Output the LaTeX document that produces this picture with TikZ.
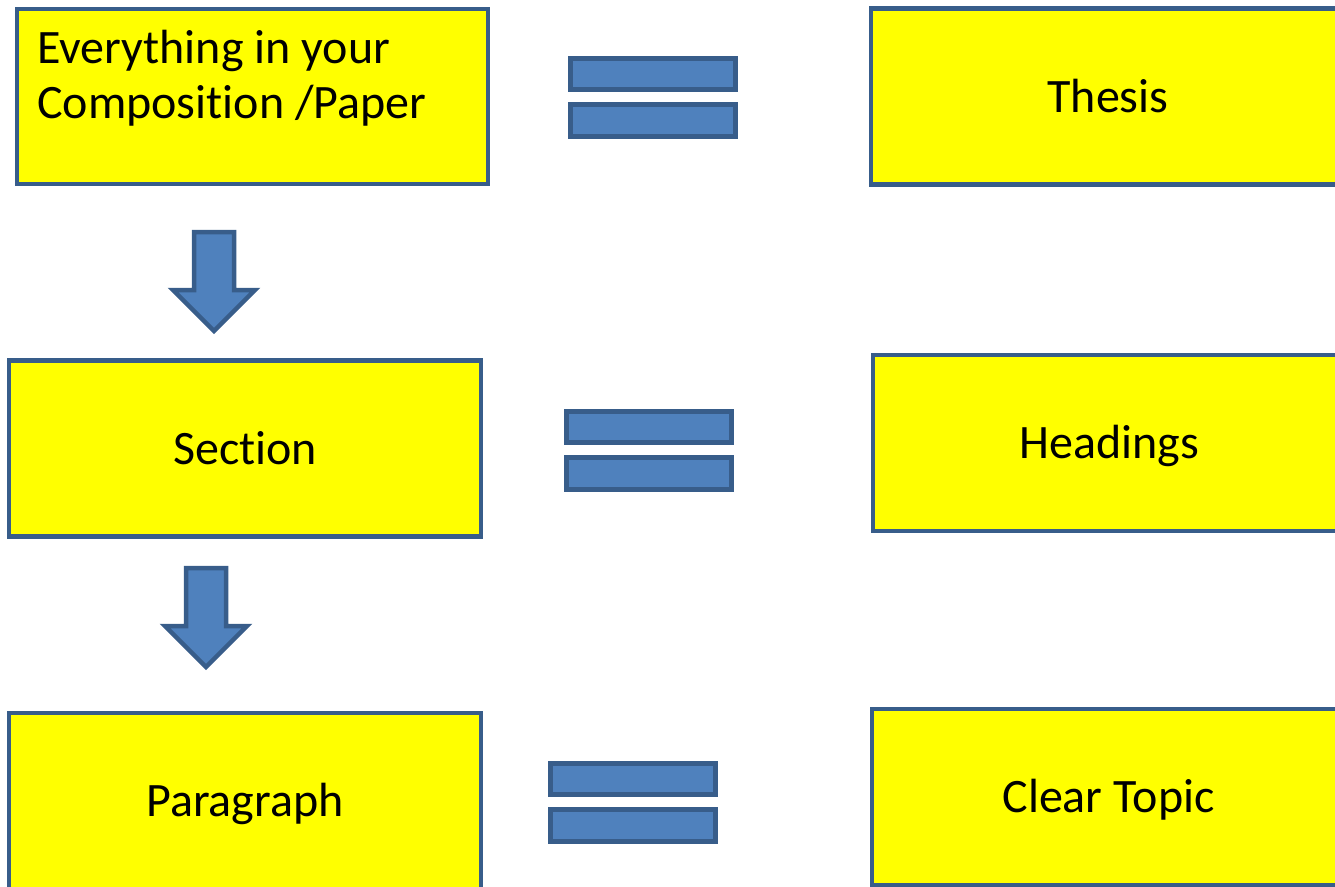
\documentclass[tikz,border=0pt]{standalone}
\usepackage{fontspec}
\setmainfont{Carlito}[Ligatures=NoCommon]
\usepackage{xcolor}
\definecolor{lemon}{RGB}{255,255,0}
\definecolor{steelblue}{RGB}{79,129,189}
\definecolor{navyedge}{RGB}{56,93,138}
\usepackage{tikz}

\tikzset{
    topicbox/.style={draw=navyedge, fill=lemon, line width=4.5pt, inner sep=0pt,
        minimum width=472pt, minimum height=176pt,
        text height=31pt, text depth=0pt, font=\fontsize{48}{55}\selectfont},
    bar/.style={draw=navyedge, fill=steelblue, line width=5pt},
    equalsign/.pic={
        \draw[bar] (0,0) rectangle (165,31);
        \draw[bar] (0,46) rectangle (165,78);
    },
    downarrow/.pic={
        \draw[bar, line width=4.5pt, line join=miter]
            (-20,0) -- (20,0) -- (20,58) -- (41,58) -- (0,99) -- (-41,58) -- (-20,58) -- cycle;
    }
}

\begin{document}
\begin{tikzpicture}[x=1pt, y=-1pt]
                \useasboundingbox (0,0) rectangle (1335,886);
                \clip (0,0) rectangle (1335,886);
                % left column
                \node [topicbox, minimum width=471pt, minimum height=175pt] (whole) at (252.5,96.5) {};
                \node [anchor=base west, align=left, inner sep=0pt, font=\fontsize{48}{55}\selectfont]
                    (wholetext) at (37,118) {Everything in your\\Composition /Paper};
                \node [topicbox] (section) at (245,448.5) {Section};
                \node [topicbox] (paragraph) at (245,801) {Paragraph};
                % right column
                \node [topicbox, minimum width=474pt] (thesis) at (1108,96.5) {Thesis};
                \node [topicbox] (headings) at (1109,443) {Headings};
                \node [topicbox, minimum width=473pt] (topic) at (1108.5,797) {Clear Topic};
                % equal signs
                \pic at (570.5,58.5) {equalsign};
                \pic at (566.5,411.5) {equalsign};
                \pic at (550.5,763.5) {equalsign};
                % down arrows
                \pic at (214,232) {downarrow};
                \pic at (206,568) {downarrow};
            \end{tikzpicture}
\end{document}
